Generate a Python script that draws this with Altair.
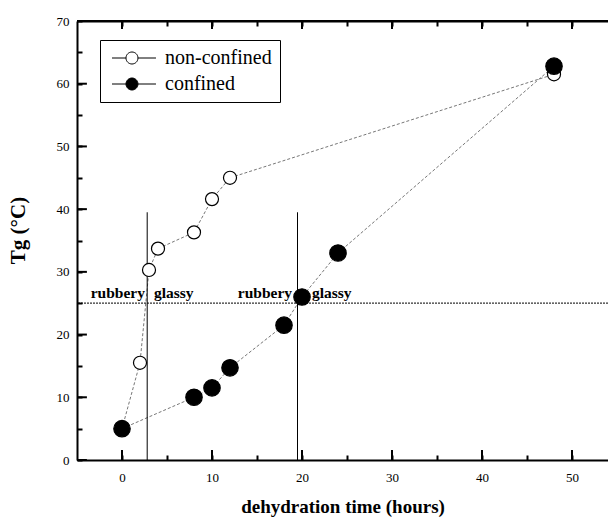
import altair as alt
import pandas as pd

# ---- data ----
series = ["non-confined", "confined"]
time_nc = [0, 2, 3, 4, 8, 10, 12, 48]
tg_nc = [5.0, 15.5, 30.3, 33.7, 36.3, 41.6, 45.0, 61.5]
time_c = [0, 8, 10, 12, 18, 20, 24, 48]
tg_c = [5.0, 10.0, 11.5, 14.7, 21.5, 26.0, 33.0, 62.8]
boundaries = [2.8, 19.5]
boundary_top = 39.5
tg_ref = 25
# annotation anchors (x in hours) for the state labels
label_text = ["rubbery", "glassy", "rubbery", "glassy"]
label_x = [2.55, 3.55, 18.9, 21.1]
label_side = ["l", "r", "l", "r"]
x_domain = [-5, 54]
y_domain = [0, 70]
x_ticks = [0, 5, 10, 15, 20, 25, 30, 35, 40, 45, 50]
y_ticks = [0, 5, 10, 15, 20, 25, 30, 35, 40, 45, 50, 55, 60, 65, 70]
x_major = [0, 10, 20, 30, 40, 50]
y_major = [0, 10, 20, 30, 40, 50, 60, 70]

FONT = "Liberation Serif"
MAJOR_ONLY = "datum.value % 10 === 0 ? datum.label : ''"
TICK_IN = alt.ExprRef("-5")
# major tick lengths in axis units (about 10 px)
XMAJ_LEN = 1.6
YMAJ_LEN = 1.1

df = pd.DataFrame(
    {
        "time": time_nc + time_c,
        "tg": tg_nc + tg_c,
        "series": [series[0]] * len(time_nc) + [series[1]] * len(time_c),
    }
)
labels_df = pd.DataFrame({"x": label_x, "label": label_text, "side": label_side})


def xscale():
    return alt.Scale(domain=x_domain, nice=False, zero=False)


def yscale():
    return alt.Scale(domain=y_domain, nice=False, zero=False)


x_axis = alt.Axis(
    title="dehydration time (hours)", values=x_ticks, labelExpr=MAJOR_ONLY,
    ticks=True, tickSize=TICK_IN, tickColor="black", tickWidth=2, grid=False,
    domainColor="black", domainWidth=2, labelFont=FONT, labelFontSize=13,
    labelColor="black", labelPadding=16, titleFont=FONT, titleFontSize=19,
    titleFontWeight="bold", titleColor="black", titlePadding=13, zindex=1,
)
y_axis = alt.Axis(
    title="Tg (°C)", values=y_ticks, labelExpr=MAJOR_ONLY,
    ticks=True, tickSize=TICK_IN, tickColor="black", tickWidth=2, grid=False,
    domainColor="black", domainWidth=2, labelFont=FONT, labelFontSize=13,
    labelColor="black", labelPadding=13, titleFont=FONT, titleFontSize=21,
    titleFontWeight="bold", titleColor="black", titlePadding=28, titleY=209,
    zindex=1,
)
x_top_axis = alt.Axis(
    orient="top", title=None, values=x_ticks, labels=False,
    ticks=True, tickSize=TICK_IN, tickColor="black", tickWidth=2, grid=False,
    domainColor="black", domainWidth=2, zindex=1,
)


def X(field):
    return alt.X(field, scale=xscale(), axis=x_axis)


def Y(field):
    return alt.Y(field, scale=yscale(), axis=y_axis)


def XD(v):
    return alt.XDatum(v, scale=xscale(), axis=x_axis)


def YD(v):
    return alt.YDatum(v, scale=yscale(), axis=y_axis)


base = alt.Chart(df)
one = pd.DataFrame({"a": [0]})

vlines = alt.Chart(pd.DataFrame({"b": boundaries})).mark_rule(color="black", strokeWidth=1).encode(
    x=X("b:Q"), y=YD(y_domain[0]), y2=alt.Y2Datum(boundary_top),
)

hline = alt.Chart(one).mark_rule(color="#333", strokeWidth=1.2, strokeDash=[2, 1]).encode(
    y=YD(tg_ref)
)

lines = base.mark_line(color="#777", strokeWidth=1, strokeDash=[3, 2]).encode(
    x=X("time:Q"), y=Y("tg:Q"), detail="series:N",
)

# legend symbol: circle (radius 1 unit) with a line through it
sym_path = (
    "M-1,0L1.33,0M3.33,0L6.33,0"
    "M1.33,0A1,1 0 1,0 3.33,0A1,1 0 1,0 1.33,0Z"
)

fill_enc = alt.Fill(
    "series:N",
    scale=alt.Scale(domain=series, range=["white", "black"]),
    legend=alt.Legend(
        title=None, orient="none", legendX=23, legendY=19,
        symbolType=sym_path, symbolSize=144, symbolStrokeColor="black",
        symbolStrokeWidth=1, symbolOpacity=1, labelFont=FONT, labelFontSize=20,
        labelColor="black", labelOffset=37, strokeColor="black", padding=8, rowPadding=6,
    ),
)

open_pts = base.transform_filter(alt.datum.series == series[0]).mark_point(
    filled=True, stroke="black", strokeWidth=1.2, size=170, shape="circle", opacity=1
).encode(x=X("time:Q"), y=Y("tg:Q"), fill=fill_enc)

filled_pts = base.transform_filter(alt.datum.series == series[1]).mark_point(
    filled=True, stroke="black", strokeWidth=1.2, size=270, shape="circle", opacity=1
).encode(x=X("time:Q"), y=Y("tg:Q"), fill=fill_enc)

left_txt = alt.Chart(labels_df).transform_filter(alt.datum.side == "l").mark_text(
    align="right", baseline="alphabetic", dy=-5, font=FONT, fontSize=15.5,
    fontWeight="bold", color="black"
).encode(x=X("x:Q"), y=YD(tg_ref), text="label:N")

right_txt = alt.Chart(labels_df).transform_filter(alt.datum.side == "r").mark_text(
    align="left", baseline="alphabetic", dy=-5, font=FONT, fontSize=15.5,
    fontWeight="bold", color="black"
).encode(x=X("x:Q"), y=YD(tg_ref), text="label:N")

# longer inward major ticks drawn as rules (bottom, top, left)
bt_major = alt.Chart(pd.DataFrame({"xm": x_major})).mark_rule(color="black", strokeWidth=2).encode(
    x=X("xm:Q"), y=YD(y_domain[0]), y2=alt.Y2Datum(y_domain[0] + XMAJ_LEN),
)
tp_major = alt.Chart(pd.DataFrame({"xt": x_major})).mark_rule(color="black", strokeWidth=2).encode(
    x=X("xt:Q"), y=YD(y_domain[1]), y2=alt.Y2Datum(y_domain[1] - XMAJ_LEN * 0.8),
)
lf_major = alt.Chart(pd.DataFrame({"ym": y_major})).mark_rule(color="black", strokeWidth=2).encode(
    y=Y("ym:Q"), x=XD(x_domain[0]), x2=alt.X2Datum(x_domain[0] + YMAJ_LEN),
)

main = alt.layer(
    lines, hline, vlines, open_pts, filled_pts, left_txt, right_txt,
    bt_major, tp_major, lf_major,
)

# top frame line carrying the top axis (ticks only)
top_spine = alt.Chart(one).mark_rule(color="black", strokeWidth=2).encode(
    x=alt.XDatum(x_domain[0], scale=xscale(), axis=x_top_axis),
    x2=alt.X2Datum(x_domain[1]),
    y=YD(y_domain[1]),
)

chart = alt.layer(main, top_spine).resolve_scale(x="independent").properties(
    width=531,
    height=439,
    autosize=alt.AutoSizeParams(type="none"),
    padding={"left": 77, "top": 21, "right": 0, "bottom": 61},
    background="white",
).configure_view(stroke=None)

chart.save("out.html", embed_options={"renderer": "svg", "actions": False})
